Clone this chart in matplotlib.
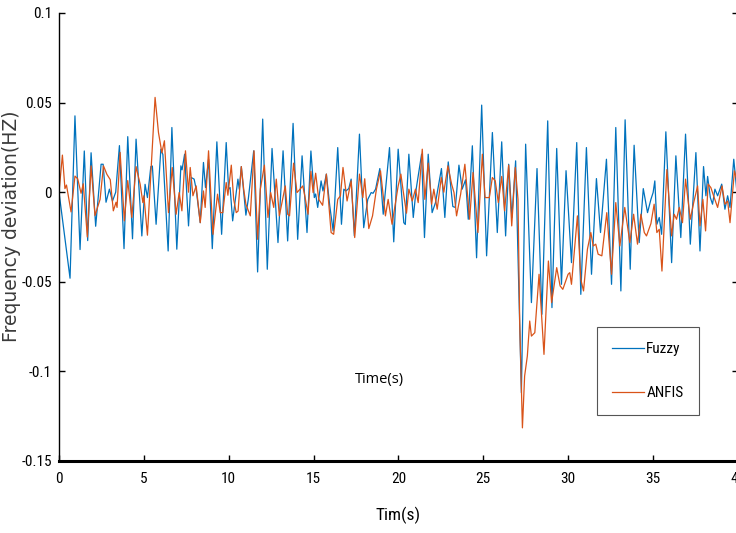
import matplotlib
matplotlib.use("Agg")
import matplotlib.pyplot as plt
from matplotlib import font_manager
from matplotlib.font_manager import FontProperties

# Frequency deviation traces for the two controllers (time in s, deviation in Hz)
fuzzy_t = [0.0, 0.65, 0.94, 1.24, 1.49, 1.69, 1.89, 2.16, 2.48, 2.6, 2.77, 2.97, 3.15, 3.34,
           3.56, 3.83, 4.05, 4.33, 4.54, 4.88, 5.07, 5.21, 5.41, 5.5, 5.72, 6.0, 6.12, 6.43,
           6.65, 6.94, 7.18, 7.25, 7.4, 7.63, 7.79, 7.96, 8.08, 8.32, 8.51, 8.63, 8.81, 9.03,
           9.3, 9.58, 9.85, 9.99, 10.08, 10.23, 10.54, 10.62, 10.74, 11.01, 11.15, 11.47,
           11.7, 12.0, 12.27, 12.55, 12.9, 13.2, 13.47, 13.79, 14.06, 14.32, 14.61, 14.84,
           15.04, 15.12, 15.24, 15.44, 15.55, 15.75, 15.95, 16.15, 16.42, 16.64, 16.78, 16.9,
           17.07, 17.21, 17.4, 17.7, 17.95, 18.19, 18.39, 18.5, 18.65, 18.9, 19.1, 19.47,
           19.72, 19.98, 20.31, 20.4, 20.61, 20.87, 21.04, 21.36, 21.53, 21.75, 21.98, 22.18,
           22.53, 22.73, 22.93, 23.2, 23.35, 23.56, 23.75, 23.95, 24.11, 24.35, 24.6, 24.9,
           25.19, 25.53, 25.82, 26.08, 26.31, 26.49, 26.68, 26.9, 27.24, 27.49, 27.83, 28.16,
           28.45, 28.79, 29.04, 29.32, 29.6, 29.87, 30.19, 30.5, 30.74, 31.07, 31.37, 31.66,
           31.9, 32.25, 32.55, 32.8, 33.1, 33.35, 33.65, 33.88, 34.18, 34.42, 34.67, 34.87,
           35.0, 35.1, 35.22, 35.36, 35.5, 35.75, 36.09, 36.34, 36.63, 36.91, 37.19, 37.52,
           37.76, 37.97, 38.11, 38.21, 38.37, 38.5, 38.64, 38.8, 39.04, 39.23, 39.39, 39.53,
           39.75, 39.94, 40.0]
fuzzy_v = [0.0, -0.048, 0.0426, -0.032, 0.023, -0.027, 0.022, -0.019, 0.0156, 0.0156, -0.0056,
           0.0017, -0.005, 0.0, 0.026, -0.0315, 0.031, -0.026, 0.0296, -0.0244, 0.0044, -0.003,
           0.0143, 0.0146, -0.0179, 0.024, 0.021, -0.0328, 0.0361, -0.0318, 0.0147, 0.0125,
           0.0212, -0.0188, 0.0082, 0.0073, 0.0017, -0.017, 0.0166, 0.0026, 0.0184, -0.0315,
           0.0281, -0.0235, 0.0277, 0.0017, 0.0026, -0.016, 0.0073, 0.0017, 0.0143, -0.0128,
           -0.004, 0.0231, -0.0445, 0.0408, -0.043, 0.0244, -0.0281, 0.0231, -0.0272, 0.0384,
           -0.0263, 0.0203, -0.0225, 0.023, -0.003, -0.001, -0.0085, 0.0063, 0.0007, 0.0101,
           -0.0076, -0.0216, 0.0249, -0.0179, 0.0017, 0.0007, 0.002, 0.0073, -0.0244, 0.0324,
           -0.0198, -0.004, -0.0002, -0.0006, 0.0017, 0.0132, -0.0123, 0.0249, -0.0277, 0.024,
           -0.017, -0.018, 0.0212, -0.0141, 0.0017, 0.0212, -0.0253, 0.0212, -0.0114, -0.0058,
           0.0132, -0.0141, 0.0169, -0.008, -0.0085, 0.0151, 0.0017, 0.0069, -0.0151, 0.0259,
           -0.0366, 0.0486, -0.0355, 0.0333, -0.0225, 0.0281, -0.0244, 0.0156, -0.0141, 0.0175,
           -0.1119, 0.0268, -0.0616, 0.0132, -0.0681, 0.0398, -0.0644, 0.0244, -0.0514, 0.012,
           -0.0393, 0.0277, -0.057, 0.0249, -0.0458, 0.0076, -0.0225, 0.0184, -0.0514, 0.0361,
           -0.0551, 0.0404, -0.043, 0.0262, -0.0281, 0.002, -0.0114, -0.004, -0.0002, 0.0063,
           -0.0179, -0.0141, -0.0235, 0.0337, -0.0393, 0.0203, -0.0253, 0.0324, -0.029, 0.0221,
           -0.0328, 0.0143, -0.002, 0.0088, -0.003, -0.0067, 0.0017, -0.002, 0.0045, -0.0095,
           -0.002, -0.0085, 0.0184, -0.0002, 0.0]

anfis_t = [0.0, 0.2, 0.35, 0.44, 0.71, 0.94, 1.1, 1.3, 1.43, 1.67, 1.89, 2.12, 2.42, 2.62, 2.82,
           3.02, 3.2, 3.36, 3.42, 3.6, 3.85, 4.05, 4.29, 4.54, 4.78, 4.94, 5.0, 5.21, 5.47, 5.66,
           5.86, 6.06, 6.21, 6.45, 6.67, 6.9, 7.08, 7.24, 7.45, 7.63, 7.73, 7.89, 8.08, 8.32,
           8.51, 8.61, 8.81, 9.07, 9.34, 9.5, 9.65, 9.85, 9.95, 10.15, 10.29, 10.44, 10.55,
           10.74, 10.88, 11.01, 11.27, 11.49, 11.7, 11.86, 12.1, 12.31, 12.47, 12.65, 12.8,
           12.98, 13.33, 13.47, 13.58, 13.82, 14.02, 14.2, 14.36, 14.48, 14.67, 14.84, 14.97,
           15.12, 15.3, 15.53, 15.75, 16.03, 16.18, 16.42, 16.58, 16.73, 16.97, 17.21, 17.42,
           17.7, 17.9, 18.01, 18.25, 18.47, 18.7, 18.94, 19.23, 19.39, 19.62, 19.98, 20.14,
           20.26, 20.47, 20.61, 20.81, 21.0, 21.16, 21.4, 21.55, 21.75, 21.95, 22.08, 22.28,
           22.52, 22.67, 22.91, 23.13, 23.27, 23.42, 23.66, 23.91, 24.19, 24.39, 24.68, 24.94,
           25.1, 25.35, 25.53, 25.7, 25.88, 26.08, 26.25, 26.49, 26.67, 26.88, 27.04, 27.14,
           27.3, 27.43, 27.59, 27.73, 27.83, 28.03, 28.28, 28.57, 28.83, 29.02, 29.32, 29.52,
           29.68, 29.83, 29.99, 30.09, 30.19, 30.54, 30.74, 30.9, 31.13, 31.33, 31.47, 31.62,
           31.76, 31.98, 32.27, 32.55, 32.8, 33.04, 33.33, 33.63, 33.85, 34.08, 34.28, 34.48,
           34.61, 34.87, 35.06, 35.22, 35.36, 35.52, 35.81, 36.09, 36.24, 36.38, 36.54, 36.73,
           36.91, 37.19, 37.39, 37.62, 37.76, 37.93, 38.09, 38.24, 38.4, 38.56, 38.8, 39.06,
           39.23, 39.39, 39.53, 39.79, 39.94, 40.0]
anfis_v = [0.0, 0.0207, 0.002, 0.004, -0.011, 0.009, 0.0075, -0.0006, 0.0047, -0.025, 0.0147,
           -0.013, -0.004, 0.0147, 0.01, 0.007, -0.0104, -0.0056, -0.0085, 0.0222, -0.016,
           0.0065, -0.0141, 0.0143, 0.0045, -0.0058, -0.002, -0.024, 0.0203, 0.0529, 0.0333,
           0.022, 0.0287, -0.0114, 0.0138, -0.0123, -0.0002, -0.0104, 0.0231, 0.0, 0.0138,
           -0.002, 0.0035, -0.017, 0.0007, -0.0085, 0.0231, -0.0235, -0.0011, -0.0114, -0.0114,
           0.0054, -0.0017, 0.0151, -0.004, -0.0114, -0.0105, 0.0143, 0.0017, -0.0067, -0.0132,
           0.0231, -0.0263, 0.0017, 0.0151, -0.0141, -0.0002, -0.0085, 0.0073, -0.0132, 0.0035,
           -0.0123, -0.0132, 0.0162, -0.0002, 0.0017, 0.0035, -0.002, -0.0123, 0.0116, -0.0002,
           0.0106, -0.004, -0.0073, 0.0101, -0.0225, -0.0235, -0.004, -0.002, 0.0138, -0.0049,
           0.0063, -0.0253, 0.0101, -0.003, 0.0075, -0.0203, -0.0132, 0.0017, 0.0119, -0.0132,
           -0.004, -0.0179, 0.0035, 0.0101, 0.0017, -0.0117, 0.0017, -0.0049, 0.0017, -0.0058,
           0.024, -0.004, 0.0162, -0.0067, 0.0017, -0.0095, 0.0082, 0.0, 0.0147, 0.0045,
           -0.0002, -0.0132, -0.0011, 0.0156, -0.0151, 0.011, -0.0225, 0.0212, -0.003, -0.003,
           0.0082, 0.0063, -0.0058, 0.0088, -0.0104, 0.0151, -0.0188, 0.0138, -0.004, -0.0728,
           -0.1315, -0.1026, -0.0914, -0.0719, -0.0803, -0.0784, -0.0458, -0.0905, -0.0384,
           -0.0616, -0.0421, -0.0523, -0.0542, -0.0501, -0.0458, -0.0449, -0.0514, -0.0132,
           -0.0486, -0.0551, -0.0318, -0.0225, -0.03, -0.029, -0.0346, -0.0355, -0.0114,
           -0.0458, -0.0058, -0.03, -0.0085, -0.0281, -0.0123, -0.029, -0.0123, -0.0225,
           -0.0244, -0.0175, -0.0067, -0.0225, -0.0207, -0.044, 0.0126, -0.0244, -0.0123,
           -0.0151, -0.0085, -0.017, 0.0073, -0.0151, -0.0058, 0.0035, -0.0188, -0.004, -0.0216,
           0.0045, 0.0026, -0.002, -0.0085, 0.0035, -0.0067, -0.0049, -0.017, 0.0119, 0.0063,
           0.004]

x_ticks = [0, 5, 10, 15, 20, 25, 30, 35, 40]
y_ticks = [-0.15, -0.1, -0.05, 0, 0.05, 0.1]
y_tick_labels = ["-0.15", "-0.1", "-0.05", "0", "0.05", "0.1"]


def narrow_font(size):
    # look for any condensed sans face on the system, else plain Liberation Sans
    wanted = ("Liberation Sans Narrow", "Arial Narrow", "Roboto Condensed",
              "Open Sans Condensed", "DejaVu Sans Condensed", "Noto Sans Condensed")
    cands = []
    for f in font_manager.fontManager.ttflist:
        if f.style != "normal" or f.weight not in (400, "normal", "regular", "book"):
            continue
        name_hit = any(w.lower() in f.name.lower() for w in wanted)
        stretch_hit = f.stretch in ("condensed", "semi-condensed", 500 - 125, 375, 300)
        if name_hit or stretch_hit or "narrow" in f.fname.lower() or "condensed" in f.fname.lower():
            cands.append(f)
    if cands:
        cands.sort(key=lambda f: (0 if "Liberation" in f.name else 1 if "Roboto" in f.name else 2))
        return FontProperties(fname=cands[0].fname, size=size)
    return FontProperties(family="Liberation Sans", size=size)


plt.rcParams["axes.unicode_minus"] = False

fig = plt.figure(figsize=(7.36, 5.33), dpi=100)
ax = fig.add_axes([59 / 736, 1 - 461 / 533, 679 / 736, 448 / 533])

ax.plot(fuzzy_t, fuzzy_v, color="#0072BD", linewidth=0.9, label="Fuzzy")
ax.plot(anfis_t, anfis_v, color="#D95319", linewidth=0.9, label="ANFIS")

ax.set_xlim(0, 40)
ax.set_ylim(-0.15, 0.1)
ax.set_xticks(x_ticks)
ax.set_yticks(y_ticks)
ax.set_yticklabels(y_tick_labels)
ax.tick_params(direction="in", length=4, width=1)
ax.tick_params(axis="x", pad=8)
ax.tick_params(axis="y", pad=5)
tick_fp = narrow_font(11)
for lab in ax.get_xticklabels() + ax.get_yticklabels():
    lab.set_fontproperties(tick_fp)

ax.spines["top"].set_visible(False)
ax.spines["left"].set_linewidth(1.0)
ax.spines["right"].set_linewidth(1.0)
ax.spines["bottom"].set_linewidth(2.2)
ax.yaxis.set_ticks_position("both")

ax.set_xlabel("Tim(s)", fontproperties=narrow_font(12.5), labelpad=15)
fig.text(12 / 736, 1 - 226 / 533, "Frequency deviation(HZ)", rotation=90,
         ha="center", va="center", fontfamily="DejaVu Sans", fontsize=13.5, color="#3a3a3a")

ax.text(18.9, -0.1045, "Time(s)", fontfamily=["Open Sans", "DejaVu Sans"], fontsize=10.5,
        ha="center", va="center")

leg = ax.legend(loc="upper left", bbox_to_anchor=(597 / 736, 1 - 327 / 533),
                bbox_transform=fig.transFigure, prop=narrow_font(11),
                handlelength=2.1, handletextpad=0.13, labelspacing=1.95, borderpad=1.0,
                borderaxespad=0, fancybox=False, framealpha=1)
leg.get_frame().set_edgecolor("#555555")
leg.get_frame().set_linewidth(0.8)

fig.savefig("out.png", dpi=100)
